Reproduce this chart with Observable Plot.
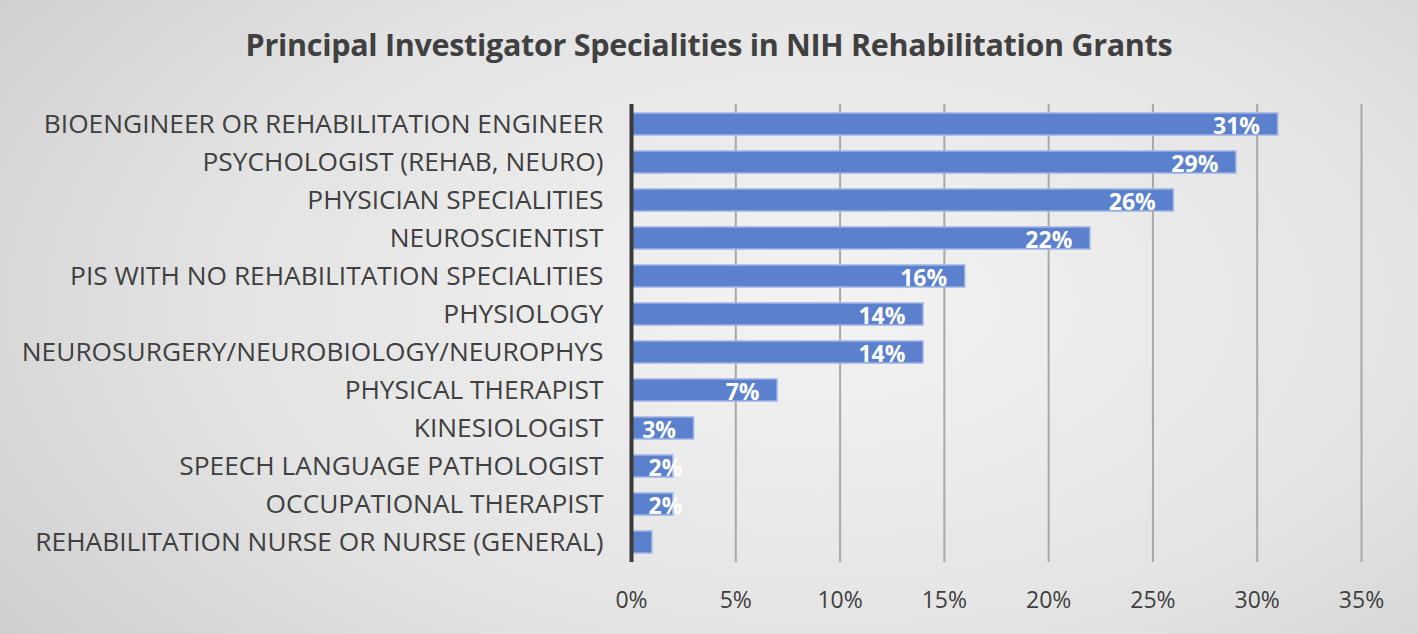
<!DOCTYPE html>
<html><head><meta charset="utf-8">
<script src="https://cdn.jsdelivr.net/npm/d3@7"></script>
<script src="https://cdn.jsdelivr.net/npm/@observablehq/plot@0.6"></script>
<style>
html,body{margin:0;padding:0;}
body{width:1418px;height:634px;overflow:hidden;font-family:"Open Sans",sans-serif;
background:radial-gradient(ellipse 75% 95% at 58% 48%, #f3f3f3 0%, #e4e4e4 55%, #cccccc 100%);}
#title{height:90px;box-sizing:border-box;padding-top:24px;text-align:center;font-weight:700;font-size:30.5px;line-height:40px;color:#404040;letter-spacing:-0.3px;white-space:nowrap;overflow:hidden;}
#chart svg{display:block;background:transparent;}
</style></head>
<body>
<div id="title">Principal Investigator Specialities in NIH Rehabilitation Grants</div>
<div id="chart"></div>
<script>
const categories = [
  "BIOENGINEER OR REHABILITATION ENGINEER",
  "PSYCHOLOGIST (REHAB, NEURO)",
  "PHYSICIAN SPECIALITIES",
  "NEUROSCIENTIST",
  "PIS WITH NO REHABILITATION SPECIALITIES",
  "PHYSIOLOGY",
  "NEUROSURGERY/NEUROBIOLOGY/NEUROPHYS",
  "PHYSICAL THERAPIST",
  "KINESIOLOGIST",
  "SPEECH LANGUAGE PATHOLOGIST",
  "OCCUPATIONAL THERAPIST",
  "REHABILITATION NURSE OR NURSE (GENERAL)"
];
const values = [31, 29, 26, 22, 16, 14, 14, 7, 3, 2, 2, 1];
const xTicks = [0, 5, 10, 15, 20, 25, 30, 35];

const data = categories.map((c, i) => ({category: c, value: values[i]}));
const big = data.filter(d => d.value >= 3);
const small = data.filter(d => d.value === 2);

const chart = Plot.plot({
  width: 1418,
  height: 544,
  marginLeft: 631,
  marginRight: 57,
  marginTop: 14,
  marginBottom: 72,
  style: {background: "transparent", fontFamily: "'Open Sans', sans-serif"},
  x: {domain: [0, 35], ticks: xTicks, tickFormat: d => d + "%", label: null},
  y: {domain: categories, paddingInner: 0.42, paddingOuter: 0.21, label: null},
  marks: [
    Plot.ruleX(xTicks.filter(t => t > 0), {stroke: "#a8a8a8", strokeWidth: 2}),
    Plot.barX(data, {x: "value", y: "category", fill: "#5b80cd", stroke: "#9db3e6", strokeWidth: 1.5}),
    Plot.ruleX([0], {stroke: "#3a3a3a", strokeWidth: 4}),
    Plot.text(big, {x: "value", y: "category", text: d => d.value + "%", textAnchor: "end", dx: -18, dy: 2, fill: "white", fontWeight: 700, fontSize: 23}),
    Plot.text(small, {x: 0, y: "category", text: d => d.value + "%", textAnchor: "start", dx: 17, dy: 2, fill: "white", fontWeight: 700, fontSize: 23}),
    Plot.axisY({tickSize: 0, tickPadding: 28, fontSize: 26.3, fill: "#404040", textStroke: "none"}),
    Plot.axisX({ticks: xTicks, tickFormat: d => d + "%", tickSize: 0, tickPadding: 29, fontSize: 23, fill: "#404040", label: null})
  ]
});
document.getElementById("chart").appendChild(chart);
</script>
</body></html>
